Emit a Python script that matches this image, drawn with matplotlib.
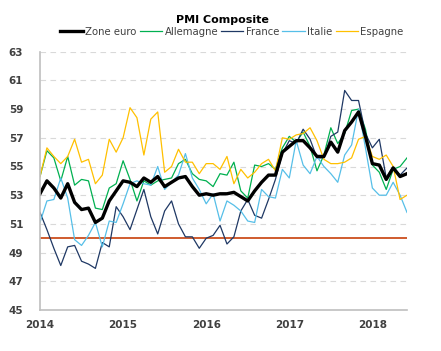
import numpy as np
import matplotlib.pyplot as plt

# monthly composite PMI, 54 points
zone_euro = [53.1, 54.0, 53.5, 52.8, 53.8, 52.5, 52.0, 52.1, 51.1, 51.4,
             52.6, 53.3, 54.0, 53.9, 53.6, 54.2, 53.9, 54.3, 53.6, 53.9, 54.2, 54.3,
             53.6, 53.0, 53.1, 53.0, 53.1, 53.1, 53.2, 52.9, 52.6, 53.3, 53.9, 54.4,
             54.4, 56.0, 56.4, 56.8, 56.8, 56.3, 55.7, 55.7, 56.7, 56.0, 57.5, 58.1,
             58.8, 57.1, 55.2, 55.1, 54.1, 54.9, 54.3, 54.5]
allemagne = [54.3, 56.1, 55.6, 54.0, 55.7, 53.7, 54.1, 54.0, 52.1, 52.0,
             53.5, 53.8, 55.4, 54.1, 52.6, 54.0, 53.7, 54.0, 54.1, 54.2, 55.2, 55.5,
             54.5, 54.1, 54.0, 53.6, 54.5, 54.4, 55.3, 53.3, 52.8, 55.1, 55.0, 55.2,
             54.8, 56.3, 57.1, 56.7, 57.4, 56.4, 54.7, 55.8, 57.7, 56.6, 57.3, 58.9,
             59.0, 57.6, 55.1, 54.6, 53.4, 54.8, 55.0, 55.6]
france = [51.8, 50.6, 49.3, 48.1, 49.4, 49.5, 48.4, 48.2, 47.9, 49.7,
          49.4, 52.2, 51.5, 50.6, 52.0, 53.4, 51.5, 50.3, 51.9, 52.6, 51.0, 50.1,
          50.1, 49.3, 50.0, 50.2, 50.9, 49.6, 50.1, 51.9, 52.7, 51.6, 51.4, 52.7,
          54.1, 55.9, 56.8, 56.6, 57.6, 56.9, 55.6, 55.6, 57.1, 57.4, 60.3, 59.6,
          59.6, 57.3, 56.3, 56.9, 54.2, 55.0, 54.4, 54.9]
italie = [51.1, 52.6, 52.7, 54.2, 52.8, 49.9, 49.5, 50.2, 51.1, 49.4,
          51.2, 51.1, 52.4, 53.8, 54.0, 53.8, 53.7, 55.0, 53.4, 53.9, 54.4, 55.9,
          54.2, 53.4, 52.4, 53.1, 51.2, 52.6, 52.3, 51.9, 51.2, 51.1, 53.4, 52.9,
          52.8, 54.8, 54.2, 56.8, 55.1, 54.5, 55.7, 55.0, 54.5, 53.9, 55.8, 56.5,
          59.0, 56.3, 53.5, 53.0, 53.0, 53.9, 53.0, 51.8]
espagne = [54.3, 56.3, 55.7, 55.2, 55.7, 56.9, 55.3, 55.5, 53.8, 54.4,
           56.9, 56.0, 57.0, 59.1, 58.4, 55.8, 58.3, 58.8, 54.6, 55.0, 56.2, 55.3,
           55.3, 54.5, 55.2, 55.2, 54.8, 55.7, 53.8, 54.8, 54.2, 54.6, 55.2, 55.5,
           54.7, 57.0, 56.9, 57.2, 57.3, 57.7, 56.8, 55.5, 55.2, 55.2, 55.3, 55.6,
           56.9, 57.1, 55.7, 55.5, 55.8, 55.0, 52.7, 53.0]
year_labels = ['2014', '2015', '2016', '2017', '2018']
threshold = 50

x = np.arange(len(zone_euro))

fig = plt.figure(figsize=(4.41, 3.51), dpi=100)
ax = fig.add_axes([40/441, 1-310/351, 367/441, 258.3/351])

ax.plot(x, allemagne, color='#00b050', lw=0.9, label='Allemagne')
ax.plot(x, france, color='#1f3864', lw=0.9, label='France')
ax.plot(x, italie, color='#56bfe8', lw=0.9, label='Italie')
ax.plot(x, espagne, color='#ffc000', lw=0.9, label='Espagne')
ax.plot(x, zone_euro, color='black', lw=2.4, label='Zone euro')
ax.axhline(threshold, color='#cf5b2e', lw=1.4, zorder=1.5)

ax.set_xlim(0, len(x) - 1)
ax.set_ylim(45, 63)
ax.set_yticks(np.arange(45, 64, 2))
ax.set_xticks(np.arange(0, len(x), 12))
ax.set_xticklabels(year_labels)
ax.tick_params(length=0, labelsize=7.5, labelcolor='#404040')
ax.tick_params(axis='y', pad=12)
ax.tick_params(axis='x', pad=7)
for lab in ax.get_xticklabels() + ax.get_yticklabels():
    lab.set_fontweight('bold')

ax.grid(axis='y', color='#d9d9d9', lw=0.8, linestyle=(0, (5, 4)))
ax.set_axisbelow(True)
for side in ['top', 'right']:
    ax.spines[side].set_visible(False)
ax.spines['left'].set_color('#bfbfbf')
ax.spines['bottom'].set_color('#bfbfbf')
ax.spines['left'].set_linewidth(1.2)
ax.spines['bottom'].set_linewidth(1.2)

handles, labels = ax.get_legend_handles_labels()
order = [4, 0, 1, 2, 3]
fig.legend([handles[i] for i in order], [labels[i] for i in order],
           loc='center', bbox_to_anchor=(232/441, 1-32/351), ncol=5,
           frameon=False, fontsize=7.3, handlelength=2.2, handletextpad=0.25,
           columnspacing=0.3, labelcolor='#404040')

fig.text(222/441, 1-20/351, 'PMI Composite', ha='center', va='center',
         fontsize=8, fontweight='bold', color='black')

fig.savefig('out.png', dpi=100)
